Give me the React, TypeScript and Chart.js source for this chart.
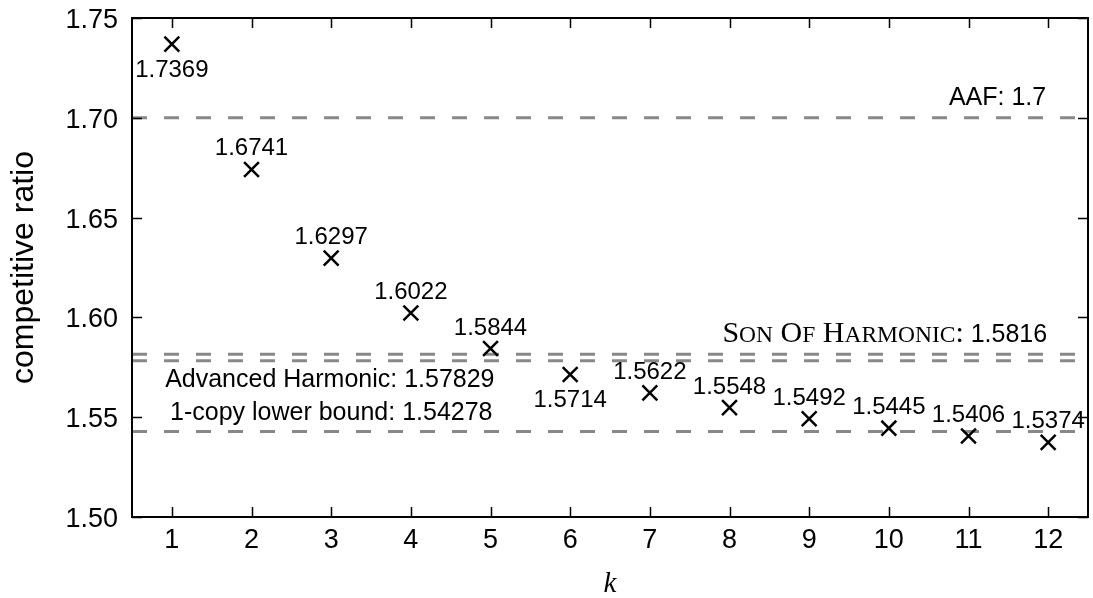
import React, { useEffect, useRef } from "react";
import { Chart, registerables } from "chart.js";

Chart.register(...registerables);

// ---------- data ----------
const K_VALUES = [1, 2, 3, 4, 5, 6, 7, 8, 9, 10, 11, 12];
const RATIOS = [1.7369, 1.6741, 1.6297, 1.6022, 1.5844, 1.5714, 1.5622, 1.5548, 1.5492, 1.5445, 1.5406, 1.5374];
const RATIO_LABELS = ["1.7369", "1.6741", "1.6297", "1.6022", "1.5844", "1.5714", "1.5622", "1.5548", "1.5492", "1.5445", "1.5406", "1.5374"];
const LABEL_SIDE = ["below", "above", "above", "above", "above", "below", "above", "above", "above", "above", "above", "above"];

const REF_NAMES = ["AAF", "Son Of Harmonic", "Advanced Harmonic", "1-copy lower bound"];
const REF_VALUES = [1.7, 1.5816, 1.57829, 1.54278];
const REF_VALUE_TEXT = ["1.7", "1.5816", "1.57829", "1.54278"];

const X_TICKS = [1, 2, 3, 4, 5, 6, 7, 8, 9, 10, 11, 12];
const X_TICK_LABELS = ["1", "2", "3", "4", "5", "6", "7", "8", "9", "10", "11", "12"];
const Y_TICKS = [1.5, 1.55, 1.6, 1.65, 1.7, 1.75];
const Y_TICK_LABELS = ["1.50", "1.55", "1.60", "1.65", "1.70", "1.75"];
const X_MIN = 0.5;
const X_MAX = 12.5;
const Y_MIN = 1.5;
const Y_MAX = 1.75;
const X_TITLE = "k";
const Y_TITLE = "competitive ratio";

// ---------- styles ----------
const W = 1093;
const H = 598;
const SANS = '"Liberation Sans", Arial, sans-serif';
const SERIF = '"Liberation Serif", "Times New Roman", serif';
const TICK_FONT = `27px ${SANS}`;
const ANNOT_FONT = `24px ${SANS}`;
const REF_FONT = `25px ${SANS}`;
const YTITLE_FONT = `32px ${SANS}`;
const XTITLE_FONT = `italic 29px ${SERIF}`;
const REF_COLOR = "#888888";

// label placement relative to the reference line
const REF_LABEL_STYLE = [
  { x: 12, dx: -2, dy: -13, kind: "sans" },
  { x: 12, dx: -1, dy: -12, kind: "smallcaps" },
  { x: 5, dx: 4, dy: 26, kind: "sans" },
  { x: 5, dx: 2, dy: -11.5, kind: "sans" },
];

function drawSmallCapsLabel(ctx: CanvasRenderingContext2D, name: string, value: string, right: number, baseline: number) {
  const bigSize = 30;
  const smallSize = 23.5;
  const segs: { t: string; f: string }[] = [];
  const txt = name + ":";
  for (const ch of txt) {
    if (ch >= "a" && ch <= "z") segs.push({ t: ch.toUpperCase(), f: `${smallSize}px ${SERIF}` });
    else segs.push({ t: ch, f: `${bigSize}px ${SERIF}` });
  }
  segs.push({ t: " " + value, f: REF_FONT });
  let total = 0;
  for (const s of segs) {
    ctx.font = s.f;
    total += ctx.measureText(s.t).width;
  }
  let x = right - total;
  ctx.textAlign = "left";
  for (const s of segs) {
    ctx.font = s.f;
    ctx.fillText(s.t, x, baseline);
    x += ctx.measureText(s.t).width;
  }
}

const framePlugin = {
  id: "framePlugin",
  afterDatasetsDraw(chart: any) {
    const { ctx, chartArea } = chart;
    const xs = chart.scales.x;
    const ys = chart.scales.y;
    const { left, right, top, bottom } = chartArea;
    ctx.save();
    ctx.fillStyle = "#000";
    ctx.strokeStyle = "#000";

    // data labels
    ctx.font = ANNOT_FONT;
    ctx.textAlign = "center";
    ctx.textBaseline = "alphabetic";
    K_VALUES.forEach((k, i) => {
      const px = xs.getPixelForValue(k);
      const py = ys.getPixelForValue(RATIOS[i]);
      const by = LABEL_SIDE[i] === "above" ? py - 14 : py + 33;
      ctx.fillText(RATIO_LABELS[i], px, by);
    });

    // reference line labels
    REF_NAMES.forEach((name, i) => {
      const st = REF_LABEL_STYLE[i];
      const ly = ys.getPixelForValue(REF_VALUES[i]);
      const rx = xs.getPixelForValue(st.x) + st.dx;
      const by = ly + st.dy;
      if (st.kind === "smallcaps") {
        drawSmallCapsLabel(ctx, name, REF_VALUE_TEXT[i], rx, by);
      } else {
        ctx.font = REF_FONT;
        ctx.textAlign = "right";
        ctx.fillText(`${name}: ${REF_VALUE_TEXT[i]}`, rx, by);
      }
    });

    // frame
    ctx.lineWidth = 2;
    ctx.strokeRect(left, top, right - left, bottom - top);

    // ticks (inward, all sides)
    ctx.lineWidth = 1.5;
    const TL = 10;
    ctx.beginPath();
    X_TICKS.forEach((t) => {
      const px = Math.round(xs.getPixelForValue(t)) + 0.5;
      ctx.moveTo(px, bottom);
      ctx.lineTo(px, bottom - TL);
      ctx.moveTo(px, top);
      ctx.lineTo(px, top + TL);
    });
    Y_TICKS.forEach((t) => {
      const py = Math.round(ys.getPixelForValue(t)) + 0.5;
      ctx.moveTo(left, py);
      ctx.lineTo(left + TL, py);
      ctx.moveTo(right, py);
      ctx.lineTo(right - TL, py);
    });
    ctx.stroke();

    // tick labels
    ctx.font = TICK_FONT;
    ctx.textBaseline = "alphabetic";
    ctx.textAlign = "center";
    X_TICKS.forEach((t, i) => {
      ctx.fillText(X_TICK_LABELS[i], xs.getPixelForValue(t), bottom + 31);
    });
    ctx.textAlign = "right";
    Y_TICKS.forEach((t, i) => {
      ctx.fillText(Y_TICK_LABELS[i], left - 14, ys.getPixelForValue(t) + 10);
    });

    // axis titles
    ctx.font = XTITLE_FONT;
    ctx.textAlign = "center";
    ctx.fillText(X_TITLE, (left + right) / 2, 592);

    ctx.save();
    ctx.translate(33, (top + bottom) / 2);
    ctx.rotate(-Math.PI / 2);
    ctx.font = YTITLE_FONT;
    ctx.textAlign = "center";
    ctx.fillText(Y_TITLE, 0, 0);
    ctx.restore();

    ctx.restore();
  },
};

export default function App() {
  const ref = useRef<HTMLCanvasElement>(null);
  useEffect(() => {
    const canvas = ref.current!;
    const refDatasets = REF_VALUES.map((v, i) => ({
      type: "line" as const,
      label: REF_NAMES[i],
      data: [
        { x: X_MIN, y: v },
        { x: X_MAX, y: v },
      ],
      borderColor: REF_COLOR,
      borderWidth: 3,
      borderDash: [15, 17],
      pointRadius: 0,
      fill: false,
      order: 2,
    }));
    const chart = new Chart(canvas, {
      type: "scatter",
      data: {
        datasets: [
          {
            type: "scatter" as const,
            label: "competitive ratio",
            data: K_VALUES.map((k, i) => ({ x: k, y: RATIOS[i] })),
            pointStyle: "crossRot",
            pointRadius: 10.5,
            pointBorderWidth: 2.5,
            borderColor: "#000",
            backgroundColor: "#000",
            order: 1,
          } as any,
          ...(refDatasets as any[]),
        ],
      },
      options: {
        responsive: false,
        maintainAspectRatio: false,
        devicePixelRatio: 1,
        animation: false,
        layout: { autoPadding: false, padding: { top: 18, right: 5, left: 0, bottom: 0 } },
        plugins: { legend: { display: false }, tooltip: { enabled: false } },
        scales: {
          x: {
            type: "linear",
            min: X_MIN,
            max: X_MAX,
            grid: { display: false },
            border: { display: false },
            ticks: { display: false },
            afterFit: (s: any) => {
              s.height = 81;
            },
          },
          y: {
            type: "linear",
            min: Y_MIN,
            max: Y_MAX,
            grid: { display: false },
            border: { display: false },
            ticks: { display: false },
            afterFit: (s: any) => {
              s.width = 132;
            },
          },
        },
      } as any,
      plugins: [framePlugin],
    });
    return () => chart.destroy();
  }, []);
  return (
    <div style={{ position: "fixed", left: 0, top: 0, width: W, height: H, background: "#fff", overflow: "hidden" }}>
      <canvas ref={ref} width={W} height={H} style={{ display: "block", width: W, height: H }} />
    </div>
  );
}
